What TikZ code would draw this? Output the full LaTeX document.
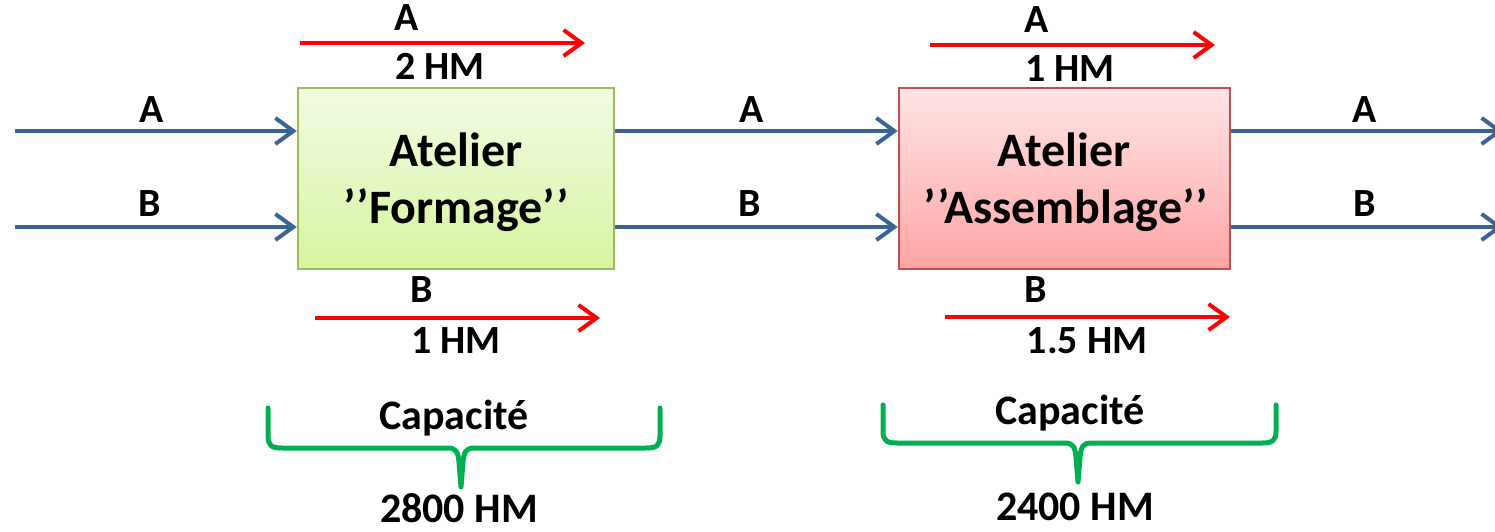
\documentclass[tikz,border=0pt]{standalone}
\usepackage{fontspec}
\setmainfont{Carlito}
\usetikzlibrary{arrows.meta}
\definecolor{flowblue}{HTML}{3A6496}
\definecolor{flowred}{HTML}{FF0000}
\definecolor{bracegreen}{HTML}{00B050}
\definecolor{greenedge}{HTML}{9BBB59}
\definecolor{rededge}{HTML}{C0504D}
\tikzset{
  flow/.style={draw=flowblue, line width=4pt, -{Straight Barb[length=18pt,width=26pt,line width=4pt]}},
  hours/.style={draw=flowred, line width=4pt, -{Straight Barb[length=18pt,width=26pt,line width=4pt]}},
  brace/.style={draw=bracegreen, line width=5pt, line join=round, line cap=round},
  lbl/.style={font=\fontsize{40}{46}\selectfont\bfseries, anchor=base, inner sep=0pt},
  captext/.style={font=\fontsize{42}{48}\selectfont\bfseries, anchor=base, inner sep=0pt},
  shop/.style={draw, line width=2.5pt, minimum width=316pt, minimum height=181pt, inner sep=0pt},
  shoptext/.style={font=\fontsize{48}{57}\selectfont\bfseries, anchor=base, inner sep=0pt},
}
\newcommand{\dq}{’\kern1pt’}
\begin{document}
\begin{tikzpicture}[x=1pt,y=-1pt]
\useasboundingbox (0,0) rectangle (1495,532);
\clip (0,0) rectangle (1495,532);

% workshops
\node[shop, draw=greenedge, top color={rgb,255:red,242;green,251;blue,226}, bottom color={rgb,255:red,214;green,244;blue,160}]
  (form) at (456,178.5) {};
\node[shop, draw=rededge, top color={rgb,255:red,255;green,228;blue,228}, bottom color={rgb,255:red,255;green,165;blue,165}, minimum width=331pt]
  (asm) at (1064.5,178.5) {};
\node[shoptext] (form1) at (456,166) {Atelier};
\node[shoptext] (form2) at (456,223) {\dq Formage\dq};
\node[shoptext] (asm1) at (1064,166) {Atelier};
\node[shoptext] (asm2) at (1066,223) {\dq Assemblage\dq};

% product flows
\coordinate (inA) at (15,131);
\coordinate (inB) at (15,227);
\coordinate (outA) at (1503,131);
\coordinate (outB) at (1503,227);
\draw[flow] (inA) -- (form.west |- inA);
\draw[flow] (inB) -- (form.west |- inB);
\draw[flow] (form.east |- inA) -- (asm.west |- inA);
\draw[flow] (form.east |- inB) -- (asm.west |- inB);
\draw[flow] (asm.east |- inA) -- (outA);
\draw[flow] (asm.east |- inB) -- (outB);

\node[lbl] (lA1) at (152,122) {A};
\node[lbl] (lB1) at (150,216) {B};
\node[lbl] (lA2) at (752,122) {A};
\node[lbl] (lB2) at (750,216) {B};
\node[lbl] (lA3) at (1365,122) {A};
\node[lbl] (lB3) at (1365,216) {B};

% machine hours per product
\coordinate (fa0) at (300,43);  \coordinate (fa1) at (585,43);
\coordinate (fb0) at (315,318); \coordinate (fb1) at (600,318);
\coordinate (aa0) at (930,45);  \coordinate (aa1) at (1215,45);
\coordinate (ab0) at (945,317); \coordinate (ab1) at (1230,317);
\draw[hours] (fa0) -- (fa1);
\draw[hours] (fb0) -- (fb1);
\draw[hours] (aa0) -- (aa1);
\draw[hours] (ab0) -- (ab1);

\node[lbl] (hA1) at (407,31) {A};
\node[lbl] (hA1v) at (440,80) {2 HM};
\node[lbl] (hB1) at (422,302) {B};
\node[lbl] (hB1v) at (456,353) {1 HM};
\node[lbl] (hA2) at (1037,33) {A};
\node[lbl] (hA2v) at (1070,82) {1 HM};
\node[lbl] (hB2) at (1036,302) {B};
\node[lbl] (hB2v) at (1087,353) {1.5 HM};

% capacity braces
\draw[brace] (268,408) -- (268,436) .. controls (268,446) and (272,448) .. (282,448)
  -- (448,448) .. controls (456,448) and (458,452) .. (459,462) -- (461,487)
  -- (463,462) .. controls (464,452) and (466,448) .. (474,448)
  -- (646,448) .. controls (656,448) and (660,446) .. (660,436) -- (660,408);
\draw[brace] (883,405) -- (883,431) .. controls (883,441) and (887,443) .. (897,443)
  -- (1065,443) .. controls (1073,443) and (1075,447) .. (1076,457) -- (1078,482)
  -- (1080,457) .. controls (1081,447) and (1083,443) .. (1091,443)
  -- (1262,443) .. controls (1272,443) and (1276,441) .. (1276,431) -- (1276,405);

\node[captext] (c1) at (454,429) {Capacité};
\node[captext] (c1v) at (459,522) {2800 HM};
\node[captext] (c2) at (1070,424) {Capacité};
\node[captext] (c2v) at (1075,520) {2400 HM};
\end{tikzpicture}
\end{document}
